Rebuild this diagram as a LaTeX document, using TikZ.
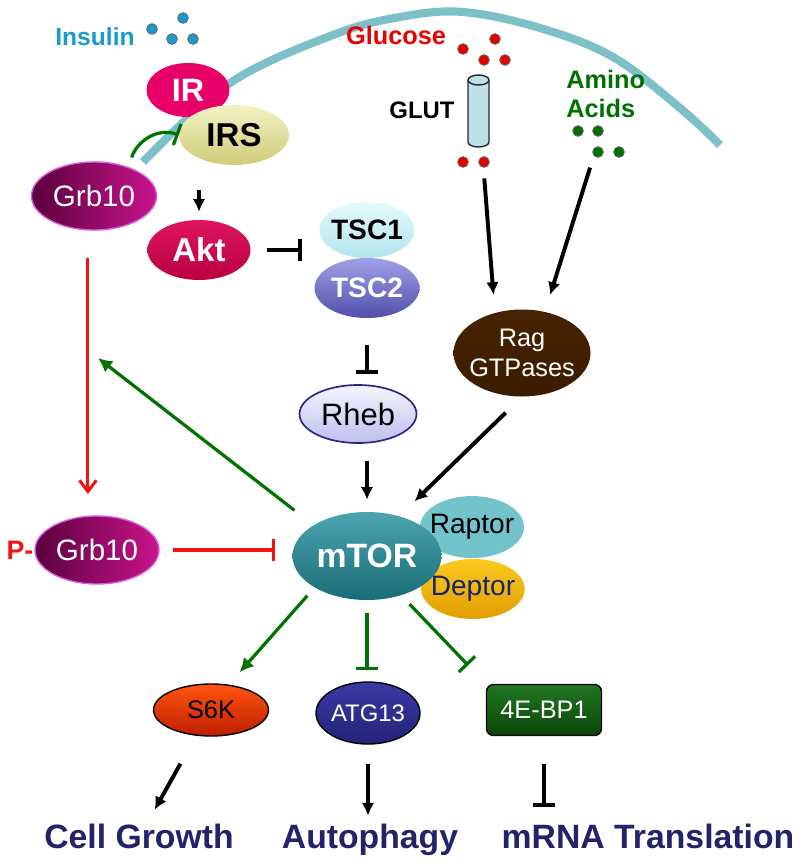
\documentclass[tikz,border=0pt]{standalone}
\usepackage{fontspec}
\setmainfont{Liberation Sans}
\usepackage{tikz}
\usetikzlibrary{arrows.meta,shapes.geometric}

\definecolor{membrane}{RGB}{125,192,202}
\definecolor{insblue}{RGB}{25,155,205}
\definecolor{glured}{RGB}{235,0,0}
\definecolor{aagreen}{RGB}{0,112,0}
\definecolor{linkgreen}{RGB}{0,115,0}
\definecolor{linkred}{RGB}{240,20,20}
\definecolor{irpink}{RGB}{232,0,105}
\definecolor{grbdark}{RGB}{90,0,60}
\definecolor{grbmag}{RGB}{200,20,140}
\definecolor{grbedge}{RGB}{215,90,225}
\definecolor{glutfill}{RGB}{190,225,230}
\definecolor{raptorfill}{RGB}{115,195,205}
\definecolor{deptortext}{RGB}{25,35,110}
\definecolor{outnavy}{RGB}{35,35,105}

\begin{document}
\begin{tikzpicture}[x=0.025cm, y=-0.025cm,
    dims/.style 2 args={minimum width=#1*0.025cm, minimum height=#2*0.025cm},
    prot/.style={ellipse, inner xsep=-4pt, inner ysep=0pt},
    lbl/.style={inner sep=0pt},
    act/.style={line width=2.8pt, -{Latex[length=9pt,width=9pt]}},
    inh/.style={line width=2.8pt, -{Bar[width=16pt]}},
    gact/.style={linkgreen, line width=2.3pt, -{Latex[length=10pt,width=10pt]}},
    ginh/.style={linkgreen, line width=2.3pt, -{Bar[width=16pt]}},
    rarr/.style={linkred, line width=2.2pt, -{Straight Barb[length=8pt,width=12pt]}},
    rinh/.style={linkred, line width=2.2pt, -{Bar[width=16pt]}},
    outcome/.style={outnavy, inner sep=0pt, anchor=base, text height=0.72em, text depth=0.2em,
        font=\fontsize{24}{26}\selectfont\bfseries},
  ]
  \useasboundingbox (0,0) rectangle (800,863);

  % cell membrane
  \draw[membrane, line width=5.8pt] plot[smooth, tension=0.6] coordinates
    {(143,162) (230,83) (333,35) (400,17) (463,12) (540,28) (613,57) (680,108) (720,145)};

  % insulin
  \node (insulin) at (95,37) [lbl, insblue, font=\fontsize{17.5}{20}\selectfont\bfseries] {Insulin};
  \foreach \x/\y in {152/29,183/18,172/39,193/39}
    \draw[fill=insblue, draw=black!60, line width=0.6pt] (\x,\y) circle (3.8pt);

  % glucose and transporter
  \node (glucose) at (396,35) [lbl, glured, font=\fontsize{18}{20}\selectfont\bfseries] {Glucose};
  \foreach \x/\y in {463/49,495/39,484/60,505/60,463/162,484/162}
    \draw[fill=glured, draw=black!60, line width=0.6pt] (\x,\y) circle (3.8pt);
  \node (glutlabel) at (422,110) [lbl, font=\fontsize{17}{20}\selectfont\bfseries] {GLUT};
  \node (glut) at (479,111) [rectangle, inner sep=0pt, dims={21}{72}] {};
  \draw[fill=glutfill, draw=black!85, line width=1pt]
    (468,80) -- (468,142) arc[start angle=180, end angle=360, x radius=0.2625cm, y radius=0.125cm]
    -- (489,80) arc[start angle=0, end angle=180, x radius=0.2625cm, y radius=0.125cm] -- cycle;
  \draw[black!85, line width=1pt]
    (468,80) arc[start angle=180, end angle=360, x radius=0.2625cm, y radius=0.125cm];

  % amino acids
  \node (amino) at (566,94) [lbl, anchor=west, aagreen, align=left,
    font=\fontsize{18}{20.5}\selectfont\bfseries] {Amino\\Acids};
  \foreach \x/\y in {578/131,598/131,598/152,619/152}
    \draw[fill=aagreen, draw=black!60, line width=0.6pt] (\x,\y) circle (3.8pt);

  % receptor
  \node (ir) at (188,90) [prot, dims={83}{54}, fill=irpink, text=white,
    font=\fontsize{23}{25}\selectfont\bfseries] {IR};
  \node (irs) at (234,135) [prot, dims={110}{60}, top color={rgb,255:red,242;green,242;blue,195},
    bottom color={rgb,255:red,208;green,204;blue,120}, font=\fontsize{23.5}{25}\selectfont\bfseries] {IRS};
  \node (grb) at (94,196) [prot, dims={125}{68}, left color=grbdark, right color=grbmag,
    draw=grbedge, line width=1pt, text=white, font=\fontsize{21}{23}\selectfont] {Grb10};
  \node (akt) at (199,250) [prot, dims={103}{60}, top color={rgb,255:red,222;green,20;blue,95},
    bottom color={rgb,255:red,185;green,0;blue,65}, text=white,
    font=\fontsize{23.5}{25}\selectfont\bfseries] {Akt};

  % TSC complex and Rheb
  \node (tscone) at (367,230) [prot, dims={95}{56}, top color={rgb,255:red,228;green,250;blue,252},
    bottom color={rgb,255:red,178;green,228;blue,236}, font=\fontsize{20}{22}\selectfont\bfseries] {TSC1};
  \node (tsctwo) at (367,288) [prot, dims={105}{60}, top color={rgb,255:red,160;green,160;blue,230},
    bottom color={rgb,255:red,80;green,80;blue,170}, text=white,
    font=\fontsize{20}{22}\selectfont\bfseries] {TSC2};
  \node (rheb) at (358,414) [prot, dims={117}{58}, top color={rgb,255:red,245;green,245;blue,255},
    bottom color={rgb,255:red,190;green,190;blue,238}, draw={rgb,255:red,40;green,40;blue,130},
    line width=1.2pt, font=\fontsize{22}{24}\selectfont] {Rheb};

  % Rag GTPases
  \node (rag) at (522,353) [prot, dims={137}{87}, top color={rgb,255:red,70;green,35;blue,0},
    middle color={rgb,255:red,120;green,60;blue,0}, bottom color={rgb,255:red,60;green,28;blue,0},
    text=white, align=center, font=\fontsize{18}{21}\selectfont] {Rag\\GTPases};

  % mTOR complex
  \node (raptor) at (472,527) [prot, dims={104}{62}, fill=raptorfill,
    font=\fontsize{20}{22}\selectfont] {Raptor};
  \node (deptor) at (473,589) [prot, dims={103}{60}, top color={rgb,255:red,250;green,202;blue,30},
    bottom color={rgb,255:red,225;green,158;blue,0}, text=deptortext,
    font=\fontsize{20}{22}\selectfont] {Deptor};
  \node (mtor) at (367,556) [prot, dims={149}{88}, top color={rgb,255:red,75;green,165;blue,175},
    bottom color={rgb,255:red,25;green,108;blue,118}, text=white,
    font=\fontsize{24}{26}\selectfont\bfseries] {mTOR};

  % phosphorylated Grb10
  \node (pgrb) at (97,550) [prot, dims={124}{68}, left color=grbdark, right color=grbmag,
    draw=grbedge, line width=1pt, text=white, font=\fontsize{21}{23}\selectfont] {Grb10};
  \node (phos) at (20,550) [lbl, linkred, font=\fontsize{19}{21}\selectfont\bfseries] {P-};

  % targets
  \node (s6k) at (211,710) [prot, dims={115}{52}, top color={rgb,255:red,255;green,85;blue,15},
    bottom color={rgb,255:red,190;green,30;blue,0}, draw=black, line width=1pt,
    font=\fontsize{18}{20}\selectfont] {S6K};
  \node (atg) at (368,713) [prot, dims={104}{62}, top color={rgb,255:red,58;green,58;blue,165},
    bottom color={rgb,255:red,35;green,35;blue,120}, draw=black, line width=1pt, text=white,
    font=\fontsize{17}{19}\selectfont] {ATG13};
  \node (ebp) at (544,710) [rectangle, rounded corners=5pt, inner sep=0pt, dims={115}{51},
    top color={rgb,255:red,35;green,118;blue,35}, bottom color={rgb,255:red,10;green,70;blue,10},
    draw=black, line width=1pt, text=white, font=\fontsize{18}{20}\selectfont] {4E-BP1};

  % outcomes
  \node (growth) at (139,848) [outcome] {Cell Growth};
  \node (auto) at (370,848) [outcome] {Autophagy};
  \node (mrna) at (648,848) [outcome] {mRNA Translation};

  % connectors
  \draw[ginh, shorten <=0.25cm] (grb.40) .. controls +(8,-25) and +(-22,-8) .. (irs.west);
  \draw[act, shorten <=0.62cm, shorten >=0.2cm] (akt.north |- irs.south) -- (akt.north);
  \draw[inh, shorten <=0.4cm, shorten >=0.3cm] (akt.east) -- (akt.east -| tsctwo.west);
  \draw[inh, shorten <=0.68cm, shorten >=0.25cm] (tsctwo.south) -- (tsctwo.south |- rheb.north);
  \draw[act, shorten <=0.43cm, shorten >=0.3cm] (mtor.north |- rheb.south) -- (mtor.north);
  \draw[act, shorten <=0.78cm, shorten >=0.45cm] (glut) -- (rag.124);
  \draw[act, shorten <=1.3cm, shorten >=0.44cm] (amino.south) -- (rag.61);
  \draw[act, shorten <=0.57cm, shorten >=0.53cm] (rag.south) -- (mtor.51);

  % feedback onto Grb10
  \coordinate (feedback) at (98,358);
  \draw[gact, shorten <=0.6cm] (mtor.150) -- (feedback);
  \draw[rarr, shorten <=0.68cm, shorten >=0.53cm] (grb.260) -- (grb.260 |- pgrb.north);
  \draw[rinh, shorten <=0.33cm, shorten >=0.43cm] (pgrb.east) -- (pgrb.east -| mtor.west);

  % downstream of mTOR
  \draw[gact, shorten <=0.27cm, shorten >=0.41cm] (mtor.211) -- (s6k.55);
  \draw[ginh, shorten <=0.33cm, shorten >=0.28cm] (mtor.south) -- (mtor.south |- atg.north);
  \draw[ginh, shorten <=0.3cm, shorten >=0.64cm] (mtor.311) -- (ebp.north west);
  \draw[act, shorten <=0.8cm, shorten >=0.8cm] (s6k.240) -- (growth.north);
  \draw[act, shorten <=0.48cm, shorten >=0.55cm] (atg.south) -- (atg.south |- auto.north);
  \draw[inh, shorten <=0.69cm, shorten >=0.77cm] (ebp.south) -- (ebp.south |- mrna.north);
\end{tikzpicture}
\end{document}
